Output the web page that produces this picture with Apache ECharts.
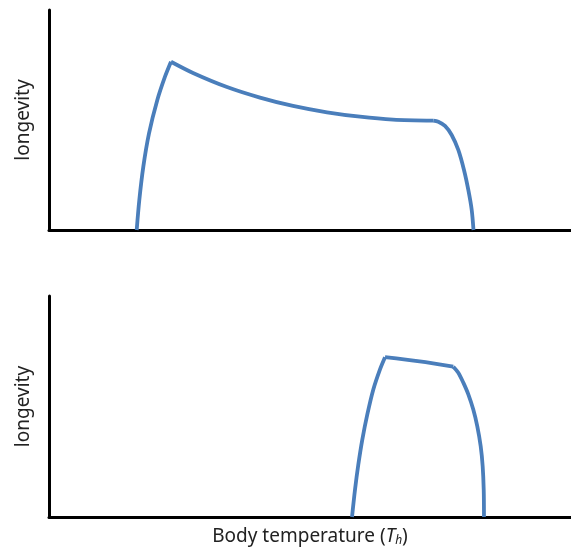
<!DOCTYPE html>
<html>
<head>
<meta charset="utf-8">
<script src="https://cdn.jsdelivr.net/npm/echarts@6/dist/echarts.min.js"></script>
<style>html,body{margin:0;padding:0;background:#fff}#c{width:571px;height:549px}</style>
</head>
<body>
<div id="c"></div>
<script>
// Top panel: rise, decay, fall  [x, longevity]
var topRise  = [[16.80,0],[17.30,13.6],[18.07,28.8],[19.16,43.9],[20.75,59.1],[22.22,69.7],[23.37,76.5]];
var topDecay = [[23.37,76.5],[27.59,71.4],[34.10,65.0],[40.42,60.2],[46.74,56.4],[53.26,53.5],[59.58,51.5],[65.90,50.2],[73.62,49.7]];
var topFall  = [[73.62,49.7],[74.58,49.2],[75.86,47.3],[77.14,43.2],[78.41,36.4],[79.50,27.3],[80.33,18.2],[80.98,9.1],[81.32,0]];
// Bottom panel
var botRise  = [[58.05,0],[58.62,12.3],[59.25,23.6],[60.02,35.0],[60.98,46.4],[62.13,57.7],[63.41,66.8],[64.37,72.3]];
var botFlat  = [[64.37,72.3],[71.00,70.4],[77.45,68.0]];
var botFall  = [[77.45,68.0],[78.41,65.3],[79.37,60.8],[80.33,55.5],[81.28,48.6],[82.05,41.0],[82.70,32.0],[83.08,22.9],[83.28,12.3],[83.33,0]];

var yLabel = 'longevity';
var xLabel = '{n|Body temperature (}{i|T}{s|h}{n|)}';

var FONT = 'Noto Sans';
var BLUE = '#4a7ebb';
function seg(data, idx) {
  return {type:'line', data:data, xAxisIndex:idx, yAxisIndex:idx, smooth:0.3,
    symbol:'none', lineStyle:{color:BLUE, width:3.8}, z:3};
}
var axisLine = {show:true, onZero:false, lineStyle:{color:'#000', width:3}};
function xAx(idx, name) {
  return {type:'value', gridIndex:idx, min:0, max:100, axisLine:axisLine,
    axisTick:{show:false}, axisLabel:{show:false}, splitLine:{show:false},
    name:name||'', nameLocation:'middle', nameGap:9,
    nameTextStyle:{fontFamily:FONT, color:'#222', fontSize:19,
      rich:{n:{fontFamily:FONT, color:'#222', fontSize:19},
            i:{fontFamily:FONT, color:'#222', fontSize:19, fontStyle:'italic'},
            s:{fontFamily:FONT, color:'#222', fontSize:12, fontStyle:'italic', padding:[9,0,0,0]}}}};
}
function yAx(idx) {
  return {type:'value', gridIndex:idx, min:0, max:100, axisLine:axisLine,
    axisTick:{show:false}, axisLabel:{show:false}, splitLine:{show:false},
    name:yLabel, nameLocation:'middle', nameGap:16, nameRotate:90,
    nameTextStyle:{fontFamily:FONT, color:'#222', fontSize:19}};
}
var chart = echarts.init(document.getElementById('c'));
chart.setOption({
  animation:false,
  backgroundColor:'#fff',
  grid:[{left:49, right:0, top:10, height:220, outerBoundsMode:'none', containLabel:false},
        {left:49, right:0, top:296, height:221, outerBoundsMode:'none', containLabel:false}],
  xAxis:[xAx(0), xAx(1, xLabel)],
  yAxis:[yAx(0), yAx(1)],
  series:[seg(topRise,0), seg(topDecay,0), seg(topFall,0), seg(botRise,1), seg(botFlat,1), seg(botFall,1)]
});
</script>
</body>
</html>
